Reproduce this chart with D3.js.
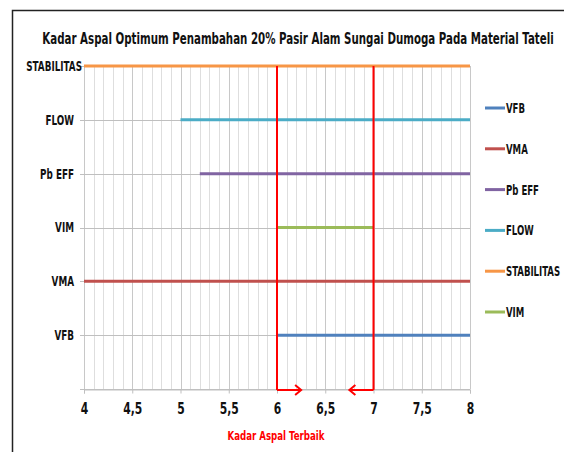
<!DOCTYPE html>
<html>
<head>
<meta charset="utf-8">
<script src="https://cdn.jsdelivr.net/npm/d3@7"></script>
<style>
  body { margin: 0; background: #fff; }
  svg { display: block; font-family: "DejaVu Sans Condensed", "DejaVu Sans", sans-serif; font-weight: bold; }
</style>
</head>
<body>
<div id="chart"></div>
<script>
// data
const categories = ['VFB', 'VMA', 'VIM', 'Pb EFF', 'FLOW', 'STABILITAS'];
const rangeStart = [6, 4, 6, 5.2, 5, 4];
const rangeEnd = [8, 8, 7, 8, 8, 8];
const colors = ['#4F81BD', '#C0504D', '#9BBB59', '#8064A2', '#4BACC6', '#F79646'];
const legendOrder = ['VFB', 'VMA', 'Pb EFF', 'FLOW', 'STABILITAS', 'VIM'];
const xTicks = [4, 4.5, 5, 5.5, 6, 6.5, 7, 7.5, 8];
const bestRange = [6, 7];
const title = 'Kadar Aspal Optimum Penambahan 20% Pasir Alam Sungai Dumoga Pada Material Tateli';

const width = 564, height = 452;
const svg = d3.select('#chart').append('svg')
  .attr('width', width)
  .attr('height', height);

// squeeze DejaVu text horizontally (around its x anchor) so it takes
// the room of the narrower original font
function condense(sel, k) {
  sel.each(function() {
    const x0 = +this.getAttribute('x') || 0;
    const kk = typeof k === 'function' ? k(this) : k;
    d3.select(this)
      .attr('transform', `translate(${x0},0) scale(${kk},1) translate(${-x0},0)`);
  });
}

// frame (only left/top visible in the crop)
svg.append('path')
  .attr('d', 'M12.5,452 L12.5,10.5 L564,10.5')
  .attr('fill', 'none')
  .attr('stroke', '#222')
  .attr('stroke-width', 1.5);

svg.append('text')
  .attr('x', 298)
  .attr('y', 44)
  .attr('text-anchor', 'middle')
  .attr('font-size', 15)
  .attr('fill', '#111')
  .text(title)
  .call(condense, node => 512 / node.getComputedTextLength());

const x = d3.scaleLinear().domain([4, 8]).range([84, 470]);
const y = d3.scaleLinear().domain([0, 6]).range([389, 66]);

// vertical minor grid
const g = svg.append('g');
g.selectAll('.vgrid')
  .data(d3.range(41).map(i => 4 + i / 10))
  .enter().append('line')
  .attr('x1', d => Math.round(x(d)) + 0.5)
  .attr('x2', d => Math.round(x(d)) + 0.5)
  .attr('y1', y(6))
  .attr('y2', y(0))
  .attr('stroke', (d, i) => i % 5 === 0 ? '#c8c8c8' : '#dedede');

// horizontal grid at category rows
g.selectAll('.hgrid')
  .data(d3.range(7))
  .enter().append('line')
  .attr('x1', 80)
  .attr('x2', x(8))
  .attr('y1', d => Math.round(y(d)) + 0.5)
  .attr('y2', d => Math.round(y(d)) + 0.5)
  .attr('stroke', '#bfbfbf');

// x axis
const xAxis = svg.append('g')
  .attr('transform', `translate(0,${Math.round(y(0)) + 0.5})`)
  .call(d3.axisBottom(x).tickValues(xTicks).tickSize(4).tickPadding(10)
    .tickFormat(d => String(d).replace('.', ',')));
xAxis.select('.domain').attr('stroke', '#bfbfbf');
xAxis.selectAll('line').attr('stroke', '#bfbfbf');
xAxis.selectAll('text')
  .attr('font-size', 15)
  .attr('font-family', '"DejaVu Sans Condensed", "DejaVu Sans", sans-serif')
  .attr('font-weight', 'bold')
  .attr('fill', '#111')
  .call(condense, 0.8);

// category labels
svg.selectAll('.cat')
  .data(categories)
  .enter().append('text')
  .attr('x', d => d === 'STABILITAS' ? 82 : 74)
  .attr('y', (d, i) => y(i + 1) + 5)
  .attr('text-anchor', 'end')
  .attr('font-size', 14)
  .attr('fill', '#111')
  .text(d => d)
  .call(condense, 0.7);

// series lines
svg.selectAll('.series')
  .data(categories)
  .enter().append('line')
  .attr('x1', (d, i) => x(rangeStart[i]))
  .attr('x2', (d, i) => x(rangeEnd[i]))
  .attr('y1', (d, i) => y(i + 1))
  .attr('y2', (d, i) => y(i + 1))
  .attr('stroke', (d, i) => colors[i])
  .attr('stroke-width', 3);

// best range markers
const red = '#FF0000';
const arrowY = y(0) + 1;
svg.selectAll('.best')
  .data(bestRange)
  .enter().append('line')
  .attr('x1', d => x(d))
  .attr('x2', d => x(d))
  .attr('y1', y(6))
  .attr('y2', arrowY)
  .attr('stroke', red)
  .attr('stroke-width', 2);

const arrowLen = 0.25;
bestRange.forEach((d, i) => {
  const dir = i === 0 ? 1 : -1;
  const x0 = x(d), x1 = x(d + dir * arrowLen);
  svg.append('line')
    .attr('x1', x0).attr('x2', x1)
    .attr('y1', arrowY).attr('y2', arrowY)
    .attr('stroke', red).attr('stroke-width', 2);
  svg.append('path')
    .attr('d', `M${x1 - dir * 6},${arrowY - 5} L${x1},${arrowY} L${x1 - dir * 6},${arrowY + 5}`)
    .attr('fill', 'none')
    .attr('stroke', red)
    .attr('stroke-width', 2);
});

svg.append('text')
  .attr('x', x(6) - 1)
  .attr('y', 440)
  .attr('text-anchor', 'middle')
  .attr('font-size', 13)
  .attr('fill', red)
  .text('Kadar Aspal Terbaik')
  .call(condense, 0.74);

// legend
const legend = svg.selectAll('.legend')
  .data(legendOrder)
  .enter().append('g')
  .attr('transform', (d, i) => `translate(485,${108 + i * 40.8})`);
legend.append('line')
  .attr('x1', 0).attr('x2', 20)
  .attr('stroke', d => colors[categories.indexOf(d)])
  .attr('stroke-width', 3);
legend.append('text')
  .attr('x', 21)
  .attr('y', 5)
  .attr('font-size', 14)
  .attr('fill', '#111')
  .text(d => d)
  .call(condense, 0.68);
</script>
</body>
</html>
